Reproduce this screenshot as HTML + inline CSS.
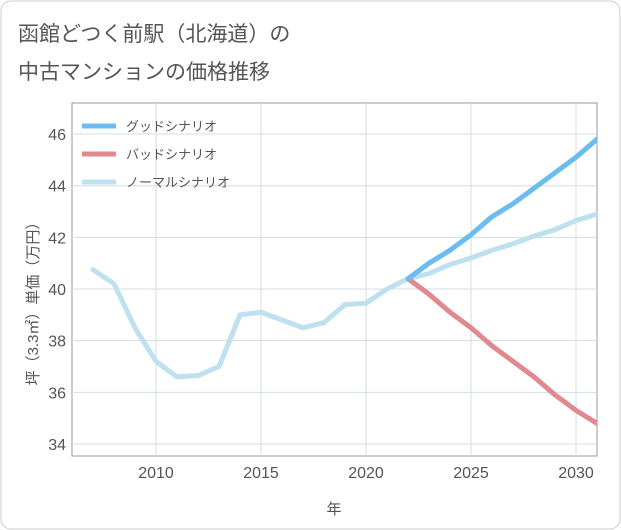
<!DOCTYPE html>
<html><head><meta charset="utf-8"><style>
body{margin:0;background:#fff;}
#wrap{width:621px;height:530px;position:relative;overflow:hidden;font-family:"Liberation Sans","Noto Sans CJK JP",sans-serif;}
</style></head><body>
<div id="wrap">
<svg id="svg" width="621" height="530" xmlns="http://www.w3.org/2000/svg">
<rect x="1" y="1" width="619" height="528" rx="10" fill="#fff" stroke="#cccccc"/>
<text x="18" y="41" font-size="21" fill="#555">函館どつく前駅（北海道）の</text>
<text x="18" y="79" font-size="21" fill="#555">中古マンションの価格推移</text>
<g id="grid"></g>
<g id="series"></g>
<g id="legend"></g>
<text x="334" y="514" font-size="15" fill="#555" text-anchor="middle">年</text>
<text transform="translate(38,300) rotate(-90)" font-size="15" fill="#555" text-anchor="middle">坪（3.3㎡）単価（万円）</text>
</svg>
</div>
<script>
const years=[2007,2008,2009,2010,2011,2012,2013,2014,2015,2016,2017,2018,2019,2020,2021,2022,2023,2024,2025,2026,2027,2028,2029,2030,2031];
const normal=[40.75,40.2,38.5,37.2,36.6,36.65,37.0,39.0,39.1,38.8,38.5,38.7,39.4,39.45,40.0,40.4,40.6,40.95,41.2,41.5,41.75,42.05,42.3,42.65,42.9];
const futureYears=[2022,2023,2024,2025,2026,2027,2028,2029,2030,2031];
const good=[40.4,41.0,41.5,42.1,42.8,43.3,43.9,44.5,45.1,45.8];
const bad=[40.4,39.8,39.1,38.5,37.8,37.2,36.6,35.9,35.3,34.8];
const xTicks=[2010,2015,2020,2025,2030];
const yTicks=[34,36,38,40,42,44,46];
const names=["グッドシナリオ","バッドシナリオ","ノーマルシナリオ"];
const colors=["#6bbcf0","#e08a90","#bfe0ee"];
const L=72,R=597,T=103,B=456;
const xs=y=>156+(y-2010)*21;
const ys=v=>444-(v-34)*25.83;
const NS="http://www.w3.org/2000/svg";
function mk(tag,attrs,parent){const e=document.createElementNS(NS,tag);for(const k in attrs)e.setAttribute(k,attrs[k]);parent.appendChild(e);return e;}
const grid=document.getElementById('grid');
const g=mk('rect',{x:L,y:T,width:R-L,height:B-T,fill:'none',stroke:'#999'},grid);


yTicks.forEach(v=>{
 const l=mk('line',{x1:L,x2:R,y1:ys(v),y2:ys(v),stroke:'#d0dde6'},grid);
 
 
 const t=mk('text',{x:L-6,y:ys(v)+6,'font-size':16,fill:'#555','text-anchor':'end'},grid);
 t.textContent=v;
 
 
});
xTicks.forEach(v=>{
 const l=mk('line',{x1:xs(v),x2:xs(v),y1:T,y2:B,stroke:'#d0dde6'},grid);
 
 
 const t=mk('text',{x:xs(v),y:B+22,'font-size':16,fill:'#555','text-anchor':'middle'},grid);
 t.textContent=v;
 
 
});
const ser=document.getElementById('series');
mk('clipPath',{id:'cp'},ser).appendChild(Object.assign(document.createElementNS(NS,'rect'),{}));
const cr=ser.querySelector('#cp rect');cr.setAttribute('x',L);cr.setAttribute('y',T);cr.setAttribute('width',R-L);cr.setAttribute('height',B-T);
function line(xv,yv,col,name){
 const p=mk('polyline',{points:xv.map((x,i)=>xs(x)+','+ys(yv[i])).join(' '),fill:'none',stroke:col,'stroke-width':5,'stroke-linejoin':'round','stroke-linecap':'round','clip-path':'url(#cp)'},ser);
 
 
}
line(years,normal,colors[2],'normal-scenario-line');
line(futureYears,bad,colors[1],'bad-scenario-line');
line(futureYears,good,colors[0],'good-scenario-line');
const lg=document.getElementById('legend');
names.forEach((n,i)=>{
 const y=126+i*28;
 const l=mk('line',{x1:82,x2:116,y1:y,y2:y,stroke:colors[i],'stroke-width':5},lg);
 
 
 const t=mk('text',{x:126,y:y+5,'font-size':13,fill:'#555'},lg);
 t.textContent=n;
 
 
});
</script>
</body></html>
